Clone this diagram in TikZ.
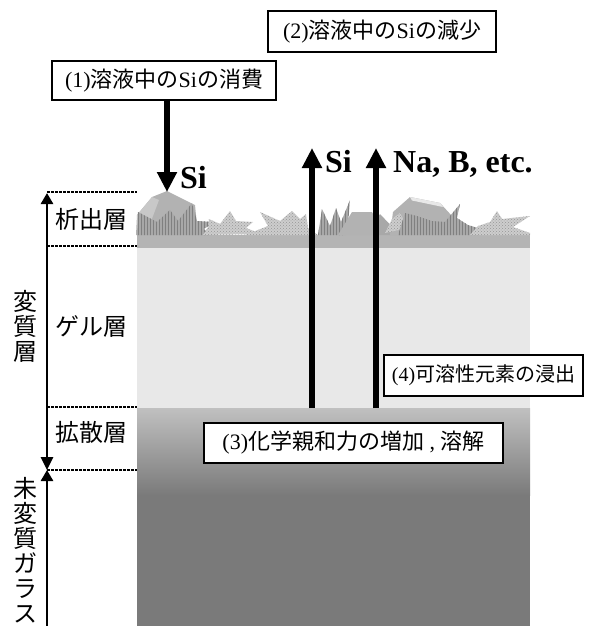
\documentclass[tikz,border=0pt]{standalone}
\usepackage{fontspec}
\setmainfont{Liberation Serif}
\newfontfamily\jp{Noto Sans CJK JP}
\usetikzlibrary{arrows.meta,patterns}

\definecolor{lumpgray}{RGB}{178,178,178}
\definecolor{lumplight}{RGB}{200,200,200}
\definecolor{hatchgray}{RGB}{168,168,168}
\definecolor{hatchline}{RGB}{128,128,128}
\definecolor{dotgray}{RGB}{205,205,205}
\definecolor{dotdark}{RGB}{150,150,150}
\definecolor{basegray}{RGB}{180,180,180}
\definecolor{gelgray}{RGB}{232,232,232}
\definecolor{difftop}{RGB}{192,192,192}
\definecolor{glassgray}{RGB}{122,122,122}

\tikzset{
  labelbox/.style={draw, line width=1.3pt, fill=white, inner sep=0pt,
    font=\fontsize{22}{22}\selectfont},
  layertext/.style={inner sep=0pt, font=\jp\fontsize{24}{25}\selectfont},
  sitext/.style={inner sep=0pt, font=\bfseries\fontsize{32}{32}\selectfont},
  fluxarrow/.style={line width=6pt, -{Triangle[length=20pt,width=19pt]}},
  scalearrow/.style={line width=2.6pt},
  layerdash/.style={line width=1.6pt, dash pattern=on 3pt off 1pt},
  lump/.style={fill=lumpgray},
  hatched/.style={fill=hatchgray, postaction={pattern=vertical lines, pattern color=hatchline}},
  dotted crystal/.style={fill=dotgray, postaction={pattern=crosshatch dots, pattern color=dotdark}},
}

\begin{document}
\begin{tikzpicture}[x=1pt, y=-1pt]
\useasboundingbox (0,0) rectangle (612,626);

% ---- glass block: layers ----
\fill[glassgray] (137,495) rectangle (530,626);
\shade[top color=difftop, bottom color=glassgray] (137,408) rectangle (530,495.5);
\fill[gelgray] (137,247) rectangle (530,408);
\fill[basegray] (137,235) rectangle (530,247.5);

% ---- precipitated crystals on the surface ----
% left cluster
\fill[lump] (136,235) -- (137,215) -- (152,197) -- (167,191) -- (195,205) -- (198,235) -- cycle;
\fill[lumplight] (137,215) -- (152,197) -- (159,200) -- (150,224) -- (137,228) -- cycle;
\fill[hatched] (137,235) -- (138,212) -- (157,222) -- (170,210) -- (178,221) -- (192,203)
  -- (197,221) -- (214,222) -- (204,229) -- (210,235) -- cycle;
\fill[dotted crystal] (203,235) -- (208,227) -- (209,219) -- (220,224) -- (230,211) -- (236,221)
  -- (253,222) -- (246,228) -- (262,234) -- cycle;
\fill[dotted crystal] (245,235) -- (268,226) -- (260,212) -- (280,221) -- (292,211) -- (300,219)
  -- (306,214) -- (308,228) -- (318,235) -- cycle;
% middle cluster
\fill[hatched] (318,235) -- (322,209) -- (330,226) -- (336,208) -- (341,222) -- (350,200)
  -- (348,225) -- (345,235) -- cycle;
\fill[lump] (338,235) -- (352,212) -- (372,212) -- (376,220) -- (378,235) -- cycle;
\fill[hatchgray] (376,220) -- (380,214) -- (398,233) -- (398,235) -- (378,235) -- cycle;
% right cluster
\fill[lump] (390,235) -- (393,212) -- (410,197) -- (440,203) -- (452,216) -- (455,235) -- cycle;
\fill[gelgray] (410,197) -- (440,203) -- (443,207) -- (412,200.5) -- cycle;
\fill[dotted crystal] (385,233) -- (392,219) -- (400,213) -- (408,228) -- cycle;
\fill[hatched] (398,235) -- (405,213) -- (417,216) -- (432,221) -- (445,222) -- (460,204)
  -- (457,218) -- (468,225) -- (488,231) -- (480,235) -- cycle;
\fill[dotted crystal] (470,235) -- (478,226) -- (490,222) -- (497,211) -- (502,219) -- (530,216)
  -- (513,227) -- (530,233) -- (530,235) -- cycle;

% ---- text boxes ----
\node[labelbox, minimum width=224pt, minimum height=39pt] (b1) at (164,80.5)
  {(1){\jp 溶液中の}Si{\jp の消費}};
\node[labelbox, minimum width=228pt, minimum height=41pt] (b2) at (382,31.5)
  {(2){\jp 溶液中の}Si{\jp の減少}};
\node[labelbox, minimum width=199pt, minimum height=41pt,
  font=\fontsize{20}{20}\selectfont] (b4) at (483.5,375.5)
  {(4){\jp 可溶性元素の浸出}};
\node[labelbox, minimum width=299pt, minimum height=40pt] (b3) at (353.5,443)
  {(3){\jp 化学親和力の増加} , {\jp 溶解}};

% ---- element fluxes ----
\coordinate (siin) at (167,192);
\coordinate (siout) at (312,148);
\coordinate (siorig) at (312,408);
\coordinate (naout) at (376,148);
\coordinate (naorig) at (376,408);

\draw[fluxarrow] ([xshift=3pt]b1.south) -- (siin);
\draw[fluxarrow] (siorig) -- (siout);
\draw[fluxarrow] (naorig) -- (naout);

\node[sitext, anchor=base west] (lsiin) at (180,188) {Si};
\node[sitext, anchor=base west] (lsiout) at (325,172) {Si};
\node[sitext, anchor=base west] (lna) at (393,172) {Na, B, etc.};

% ---- layer boundaries and scale ----
\coordinate (ltop) at (47,193);
\coordinate (lmid) at (47,470);
\coordinate (lbot) at (47,626);
\draw[scalearrow, {Triangle[length=13pt,width=12pt]}-{Triangle[length=11pt,width=12pt]}] (lmid) -- (ltop);
\draw[scalearrow, -{Triangle[length=11pt,width=12pt]}] (lbot) -- (lmid);

\coordinate (d1a) at (47,192);  \coordinate (d1b) at (137,192);
\coordinate (d2a) at (47,246);  \coordinate (d2b) at (137,246);
\coordinate (d3a) at (47,407);  \coordinate (d3b) at (137,407);
\coordinate (d4a) at (47,470);  \coordinate (d4b) at (137,470);
\draw[layerdash] (d1a) -- (d1b);
\draw[layerdash] (d2a) -- (d2b);
\draw[layerdash] (d3a) -- (d3b);
\draw[layerdash] (d4a) -- (d4b);

% ---- layer names ----
\node[layertext] (tprec) at (91,219) {析出層};
\node[layertext] (tgel) at (91,326) {ゲル層};
\node[layertext] (tdiff) at (91,432) {拡散層};
\node[layertext, align=center] (taltered) at (25,326) {変\\質\\層};
\node[layertext, align=center, anchor=north] (tglass) at (25,477) {未\\変\\質\\ガ\\ラ\\ス};
\end{tikzpicture}
\end{document}
